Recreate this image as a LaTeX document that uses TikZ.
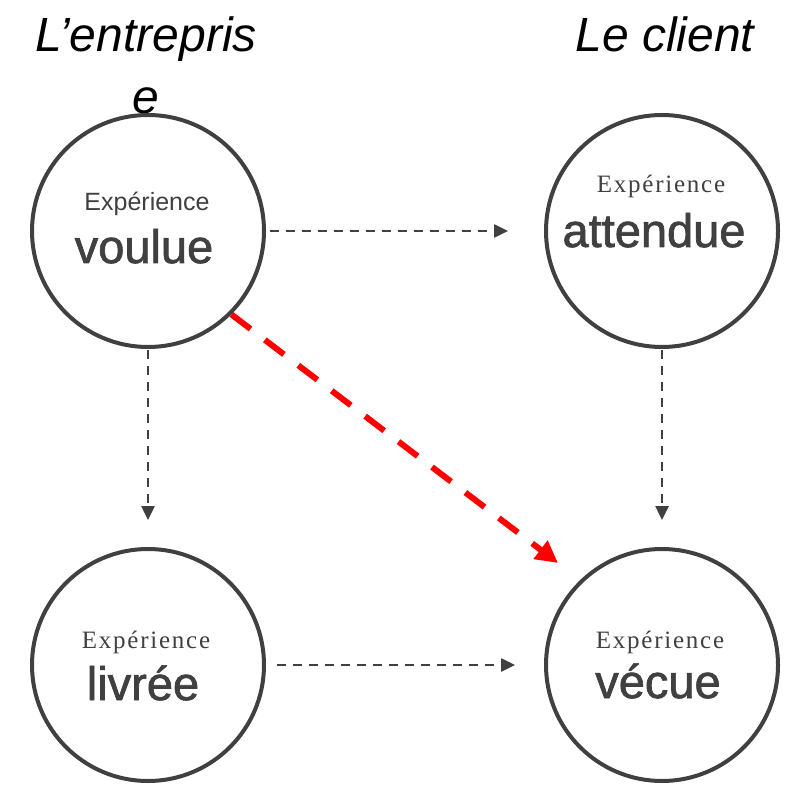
\documentclass[tikz,border=0pt]{standalone}
\usepackage{fontspec}
\setmainfont{Liberation Sans}
\newfontfamily\spacedserif[LetterSpace=7]{Liberation Serif}
\newfontfamily\heavysans[FakeBold=1.5]{Liberation Sans}
\usetikzlibrary{arrows.meta, positioning, calc}
\definecolor{ink}{HTML}{404040}

\tikzset{
    bubble/.style={circle, draw=ink, line width=4pt, minimum size=232pt, inner sep=0pt},
    tag/.style={anchor=base, text=ink, inner sep=0pt, font=\fontsize{25}{30}\selectfont},
    seriftag/.style={tag, font=\spacedserif\fontsize{25}{30}\selectfont},
    word/.style={anchor=base, text=ink, inner sep=0pt, font=\heavysans\fontsize{47}{56}\selectfont},
    side/.style={anchor=base, align=center, inner sep=0pt, font=\itshape\fontsize{48}{62}\selectfont},
    link/.style={draw=ink, line width=2.5pt, dash pattern=on 9pt off 7pt, -{Triangle[length=14pt, width=13pt]}},
    hot/.style={draw=red, line width=6pt, dash pattern=on 24pt off 18pt, -{Triangle[length=22pt, width=22pt]}}
}

\begin{document}
\begin{tikzpicture}[x=1pt, y=1pt]
    \useasboundingbox[fill=white] (0,0) rectangle (789,785);

    % the two sides (base sits on the last line)
    \node[side] (firm) at (146,671) {L’entrepris\\e};
    \node[side] (customer) at (665,733) {Le client};

    % the four experiences
    \node[bubble] (voulue) at (148,554) {};
    \node[bubble] (attendue) at (662,554) {};
    \node[bubble] (livree) at (148,120) {};
    \node[bubble] (vecue) at (662,120) {};

    \node[tag] (voulueTag) at ($(voulue)+(-1,20)$) {Expérience};
    \node[word] (voulueWord) at ($(voulue)+(-4,-32)$) {voulue};
    \node[seriftag] (attendueTag) at ($(attendue)+(-1,38)$) {Expérience};
    \node[word] (attendueWord) at ($(attendue)+(-8,-16)$) {attendue};
    \node[seriftag] (livreeTag) at ($(livree)+(-2,17)$) {Expérience};
    \node[word] (livreeWord) at ($(livree)+(-5,-35)$) {livrée};
    \node[seriftag] (vecueTag) at ($(vecue)+(-2,17)$) {Expérience};
    \node[word] (vecueWord) at ($(vecue)+(-4,-33)$) {vécue};

    % links
    \draw[link, shorten <=4pt, shorten >=36pt] (voulue) -- (attendue);
    \draw[link, shorten <=1pt, shorten >=27pt] (voulue) -- (livree);
    \draw[link, shorten <=1pt, shorten >=27pt] (attendue) -- (vecue);
    \draw[link, shorten <=11pt, shorten >=29pt] (livree) -- (vecue);
    \coordinate (redTip) at (558,222);
    \draw[hot] (voulue.-45) -- (redTip);
\end{tikzpicture}
\end{document}
